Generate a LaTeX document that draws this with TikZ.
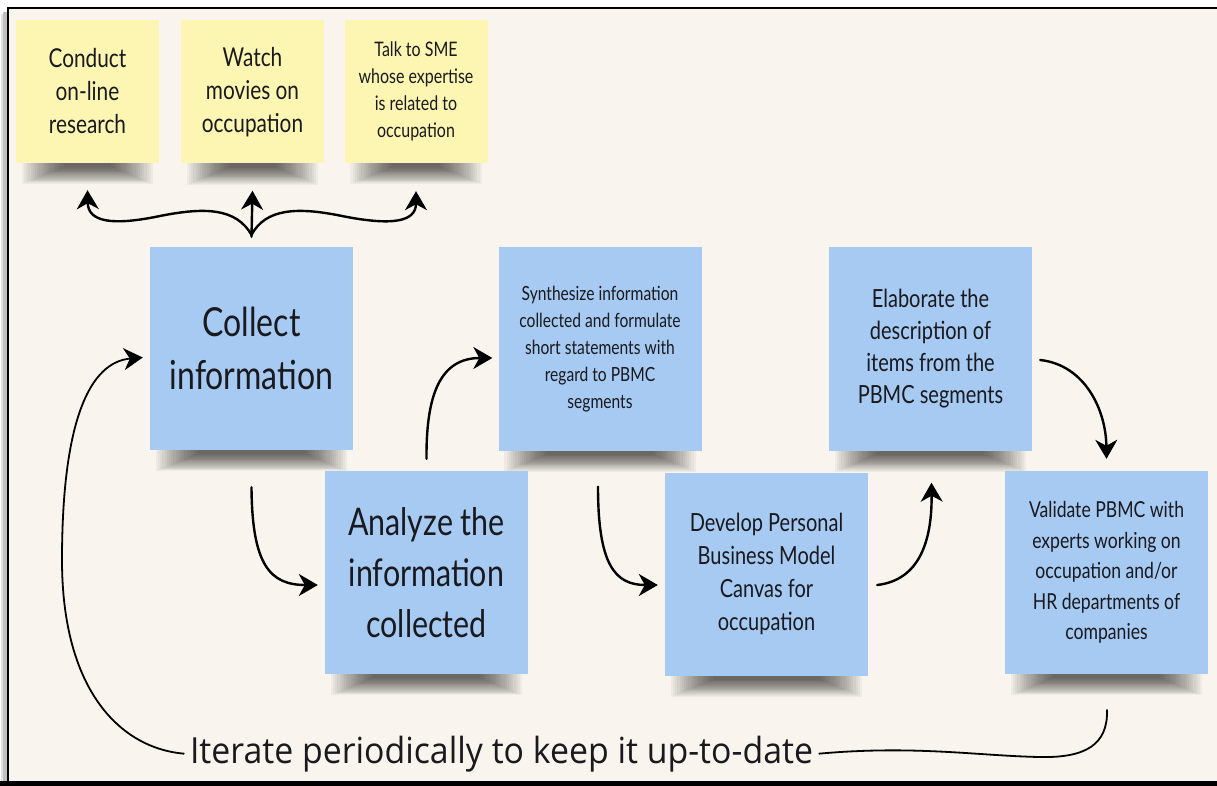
\documentclass[tikz,border=0pt]{standalone}
\usepackage{fontspec}
\usetikzlibrary{arrows.meta,calc}
\newfontfamily\handfont[FakeStretch=0.8]{Lato}
\newfontfamily\iterfont[FakeStretch=0.94]{Open Sans}
\definecolor{cream}{RGB}{249,245,238}
\definecolor{noteyellow}{RGB}{252,246,178}
\definecolor{noteblue}{RGB}{166,202,242}
\definecolor{inktext}{RGB}{25,25,30}
\pgfdeclarelayer{base}
\pgfdeclarelayer{shade}
\pgfsetlayers{base,shade,main}
\tikzset{
  sticky/.style={draw=none, inner sep=0pt, align=center, text=inktext},
  yellownote/.style={sticky, fill=noteyellow, minimum width=143pt, minimum height=143pt},
  bluenote/.style={sticky, fill=noteblue, minimum width=203pt, minimum height=203pt},
  tipstyle/.style={-{Stealth[length=19pt,width=22pt,inset=6pt]}},
  flow/.style={line width=2.4pt, line cap=round, tipstyle},
  loopline/.style={line width=1.8pt, line cap=round},
  fs/.style 2 args={font=\handfont\fontsize{#1}{#2}\selectfont},
  shadowpiece/.style={fill=black, opacity=0.04},
}
\begin{document}
\begin{tikzpicture}[x=1pt,y=-1pt]
\useasboundingbox (0,0) rectangle (1217,786);
\begin{pgfonlayer}{base}
\fill[white] (0,0) rectangle (1217,786);
\fill[black!25] (3,12) rectangle (8,781);
\fill[black!12] (1,14) rectangle (3,781);
\fill[cream] (8,8) rectangle (1217,781);
\draw[line width=1.6pt] (1217,8) -- (8,8) -- (8,781);
\fill[black] (0,781) rectangle (1217,786);
\end{pgfonlayer}

% yellow notes
\node[yellownote, fs={26}{33}] (conduct) at (87.5,91.5) {Conduct\\on-line\\research};
\node[yellownote, fs={26}{33}] (watch) at (252.5,92) {Watch\\movies on\\occupation};
\node[yellownote, fs={20}{27}] (talk) at (416,91.5) {Talk to SME\\whose expertise\\is related to\\occupation};

% blue notes
\node[bluenote, fs={40}{53}] (collect) at (251.5,348.5) {Collect\\information};
\node[bluenote, fs={38}{51}] (analyze) at (426.5,572.5) {Analyze the\\information\\collected};
\node[bluenote, fs={19.5}{27}] (synth) at (600,349) {Synthesize information\\collected and formulate\\short statements with\\regard to PBMC\\segments};
\node[bluenote, fs={25}{33}] (develop) at (766.5,574) {Develop Personal\\Business Model\\Canvas for\\occupation};
\node[bluenote, fs={25}{32}] (elab) at (930.5,349) {Elaborate the\\description of\\items from the\\PBMC segments};
\node[bluenote, fs={22}{30.5}] (validate) at (1106.5,572.5) {Validate PBMC with\\experts working on\\occupation and/or\\HR departments of\\companies};

% note shadows
\begin{pgfonlayer}{shade}
\foreach \n in {conduct,watch,talk,collect,analyze,synth,develop,elab,validate}{
  \foreach \i in {0,...,19}{
    \fill[shadowpiece] ($(\n.south west)+(6+\i*2.2,-6)$) rectangle ($(\n.south east)+(-6-\i*2.2,21-\i*0.9)$);
  }
}
\end{pgfonlayer}

% bottom text
\node[font=\iterfont\fontsize{36}{40}\selectfont, text=inktext, inner xsep=6pt, inner ysep=0pt, anchor=base] (iter) at (501.5,763) {Iterate periodically to keep it up-to-date};
\coordinate (vend) at (1107,710);

% fork to yellow notes
\draw[flow] ($(collect.north)+(0,-10)$) -- ($(watch.south)+(0,27)$);
\draw[flow] ($(collect.north)+(0,-12)$) .. controls (236,208) and (205,207) .. (160,216)
   .. controls (112,226) and (88,222) .. ($(conduct.south)+(0,27)$);
\draw[flow] ($(collect.north)+(0,-12)$) .. controls (266,208) and (298,207) .. (342,216)
   .. controls (392,226) and (416,222) .. ($(talk.south)+(0,28)$);

% main flow
\draw[flow] ($(collect.south)+(0,37)$) .. controls (252,565) and (270,585) .. ($(analyze.west)+(-7,12.5)$);
\draw[flow] ($(analyze.north)+(0,-12)$) .. controls (426,395) and (440,358) .. ($(synth.west)+(-6,9)$);
\draw[flow] ($(synth.south)+(-2,36)$) .. controls (598,565) and (615,585) .. ($(develop.west)+(-7,11)$);
\draw[flow] ($(develop.east)+(9,11)$) .. controls (920,580) and (932,540) .. ($(elab.south)+(1,32)$);
\draw[flow] ($(elab.east)+(8,11)$) .. controls (1085,365) and (1106,410) .. ($(validate.north)+(0,-12)$);

% iteration loop
\draw[loopline] (vend) .. controls (1108,745) and (1085,758) .. (1040,757)
   .. controls (980,756) and (915,745) .. (iter.east);
\draw[loopline, tipstyle] (iter.west)
   .. controls (120,748) and (62,690) .. (62,560)
   .. controls (62,420) and (90,362) .. ($(collect.west)+(-7,9)$);
\end{tikzpicture}
\end{document}
